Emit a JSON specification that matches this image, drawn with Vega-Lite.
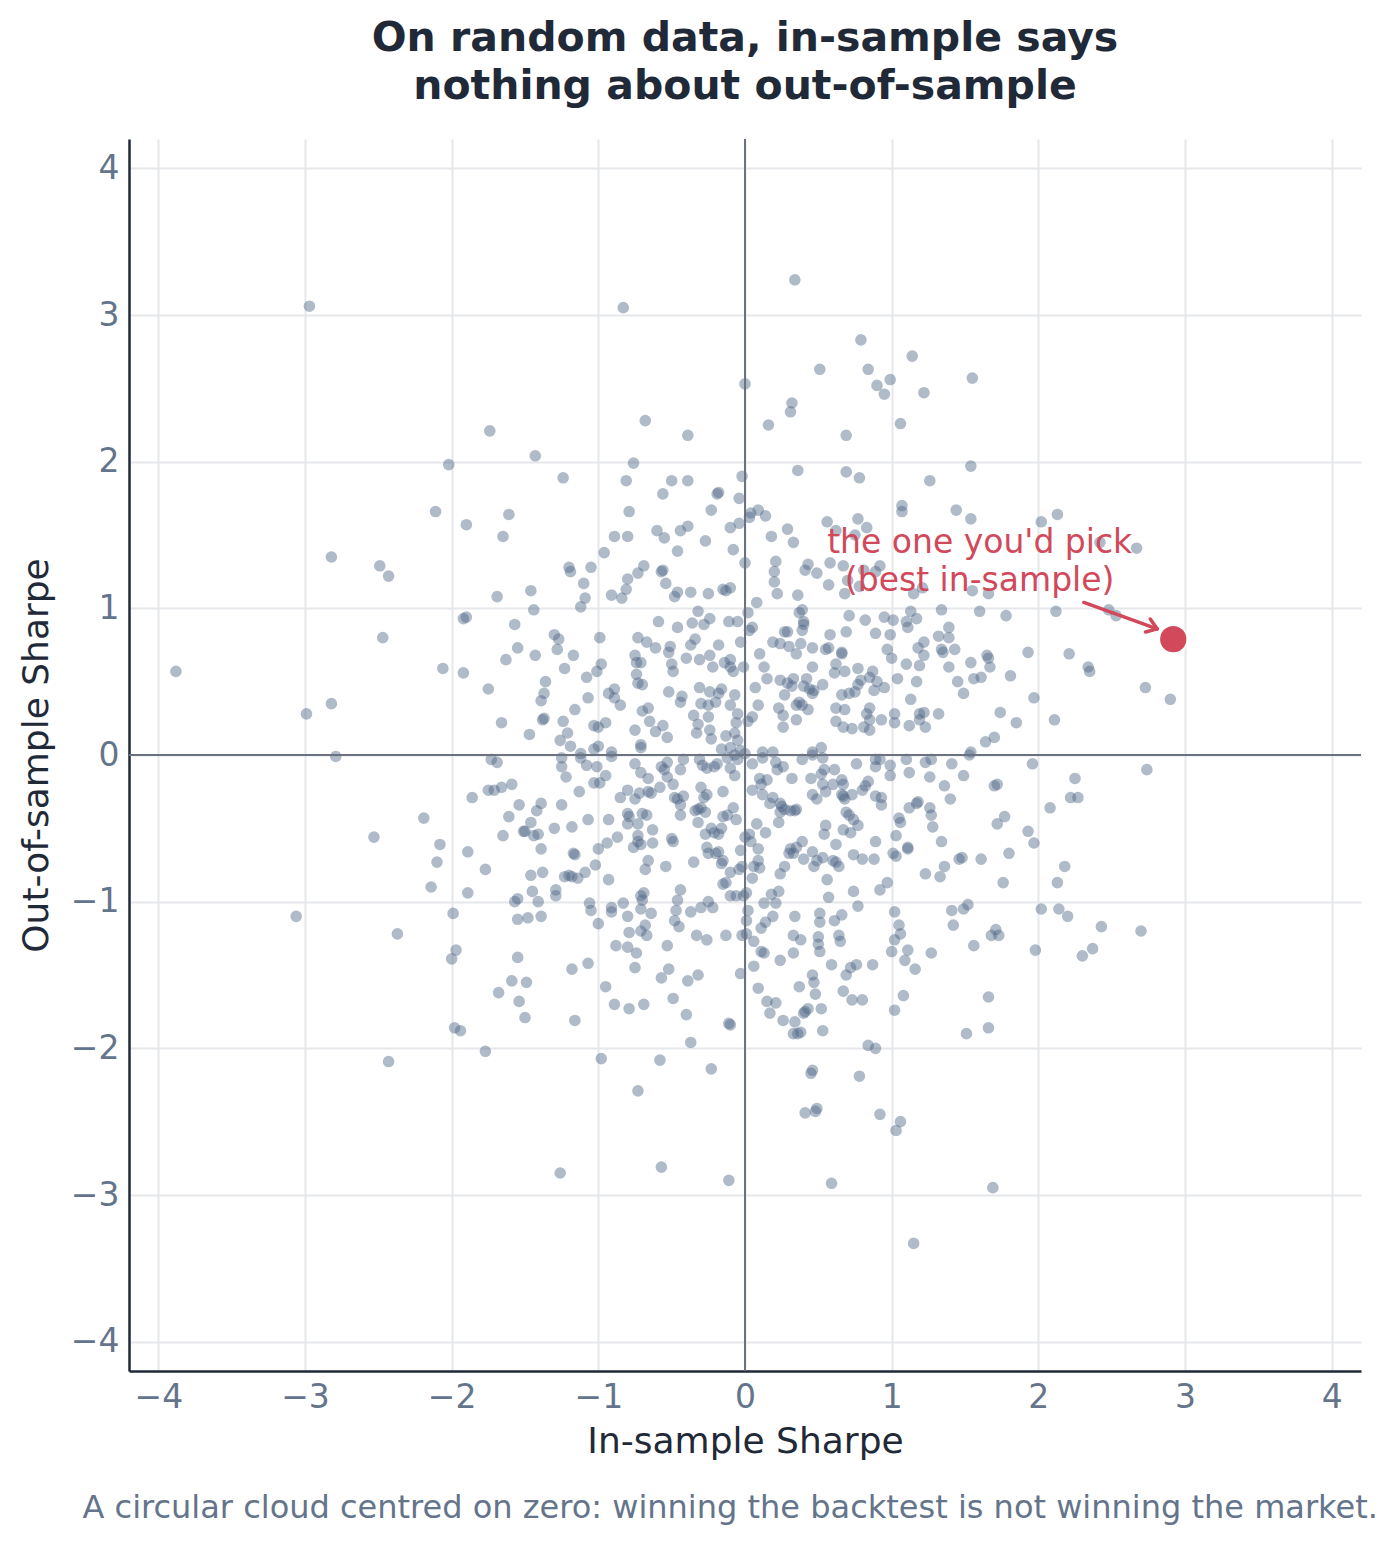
{
  "$schema": "https://vega.github.io/schema/vega-lite/v6.json",
  "background": "white",
  "padding": {"left": 18, "top": 18, "right": 30, "bottom": 10},
  "config": {
    "view": {"stroke": null},
    "font": "DejaVu Sans",
    "axis": {
      "grid": true, "gridColor": "#e5e7eb", "gridWidth": 2,
      "domainColor": "#1f2937", "domainWidth": 2.5, "ticks": false,
      "labelFont": "DejaVu Sans", "labelFontSize": 33, "labelColor": "#64748b", "labelPadding": 10,
      "labelFlush": false, "labelOverlap": false,
      "titleFont": "DejaVu Sans", "titleFontSize": 36, "titleColor": "#1f2937", "titleFontWeight": "normal"
    }
  },
  "title": {
    "text": "A circular cloud centred on zero: winning the backtest is not winning the market.",
    "orient": "bottom", "anchor": "middle", "fontSize": 32, "fontWeight": "normal",
    "color": "#64748b", "offset": 34, "dx": 40
  },
  "datasets": {
    "cloud": [
      {"x":-2.97,"y":3.06},{"x":-1.74,"y":2.21},{"x":-2.02,"y":1.98},{"x":-2.11,"y":1.66},{"x":-1.90,"y":1.57},
      {"x":-2.82,"y":1.35},{"x":-2.49,"y":1.29},{"x":-2.43,"y":1.22},{"x":-1.69,"y":1.08},{"x":-1.92,"y":0.93},
      {"x":-1.90,"y":0.94},{"x":-2.47,"y":0.80},{"x":-3.88,"y":0.57},{"x":-2.06,"y":0.59},{"x":-1.92,"y":0.56},
      {"x":-1.75,"y":0.45},{"x":-1.66,"y":0.22},{"x":-2.82,"y":0.35},{"x":-2.99,"y":0.28},{"x":-2.79,"y":-0.01},
      {"x":-1.73,"y":-0.03},{"x":-1.69,"y":-0.05},{"x":-1.86,"y":-0.29},{"x":-1.75,"y":-0.24},{"x":-1.71,"y":-0.24},
      {"x":-1.66,"y":-0.22},{"x":-2.19,"y":-0.43},{"x":-2.53,"y":-0.56},{"x":-2.08,"y":-0.61},{"x":-1.89,"y":-0.66},
      {"x":-2.10,"y":-0.73},{"x":-1.77,"y":-0.78},{"x":-2.14,"y":-0.90},{"x":-1.89,"y":-0.94},{"x":-3.06,"y":-1.10},
      {"x":-1.99,"y":-1.08},{"x":-2.37,"y":-1.22},{"x":-1.97,"y":-1.33},{"x":-2.00,"y":-1.39},{"x":-1.68,"y":-1.62},
      {"x":-1.98,"y":-1.86},{"x":-1.94,"y":-1.88},{"x":-1.77,"y":-2.02},{"x":-2.43,"y":-2.09},
      {"x":-0.83,"y":3.05},{"x":0.00,"y":2.53},{"x":-0.68,"y":2.28},{"x":-0.39,"y":2.18},{"x":-1.43,"y":2.04},
      {"x":-0.76,"y":1.99},{"x":-1.24,"y":1.89},{"x":-0.81,"y":1.87},{"x":-0.50,"y":1.87},{"x":-0.39,"y":1.87},
      {"x":-0.02,"y":1.90},{"x":-0.56,"y":1.78},{"x":-0.19,"y":1.78},{"x":-0.18,"y":1.79},{"x":-0.23,"y":1.67},
      {"x":-0.04,"y":1.75},{"x":-1.61,"y":1.64},{"x":-0.79,"y":1.66},{"x":-1.65,"y":1.49},{"x":-0.60,"y":1.53},
      {"x":-0.55,"y":1.48},{"x":-0.44,"y":1.53},{"x":-0.39,"y":1.56},{"x":-0.89,"y":1.49},{"x":-0.80,"y":1.49},
      {"x":-0.10,"y":1.55},{"x":-0.04,"y":1.58},{"x":-0.27,"y":1.46},{"x":-0.08,"y":1.40},{"x":-0.46,"y":1.39},
      {"x":-0.96,"y":1.38},{"x":0.00,"y":1.31},{"x":-1.20,"y":1.28},{"x":-1.19,"y":1.25},{"x":-1.05,"y":1.28},
      {"x":-0.69,"y":1.29},{"x":-0.73,"y":1.24},{"x":-0.57,"y":1.25},{"x":-0.56,"y":1.26},{"x":-0.54,"y":1.17},
      {"x":-0.80,"y":1.20},{"x":-0.81,"y":1.13},{"x":-1.10,"y":1.17},{"x":-1.09,"y":1.07},{"x":-1.12,"y":1.01},
      {"x":-0.91,"y":1.09},{"x":-0.84,"y":1.07},{"x":-1.46,"y":1.12},{"x":-1.44,"y":0.99},{"x":-0.46,"y":1.11},
      {"x":-0.48,"y":1.08},{"x":-0.37,"y":1.11},{"x":-0.25,"y":1.10},{"x":-0.15,"y":1.13},{"x":-0.10,"y":1.14},
      {"x":-0.13,"y":1.12},{"x":-1.57,"y":0.89},{"x":-0.59,"y":0.91},{"x":-0.46,"y":0.87},{"x":-0.32,"y":0.98},
      {"x":-0.36,"y":0.90},{"x":-0.28,"y":0.89},{"x":-0.24,"y":0.93},{"x":-0.11,"y":0.91},{"x":-0.05,"y":0.91},
      {"x":0.02,"y":0.97},{"x":-0.99,"y":0.80},{"x":-1.30,"y":0.82},{"x":-1.27,"y":0.79},{"x":-1.55,"y":0.73},
      {"x":-1.63,"y":0.65},{"x":-1.43,"y":0.68},{"x":-1.28,"y":0.72},{"x":-1.17,"y":0.68},{"x":-1.23,"y":0.59},
      {"x":-0.73,"y":0.80},{"x":-0.67,"y":0.77},{"x":-0.61,"y":0.73},{"x":-0.51,"y":0.74},{"x":-0.52,"y":0.70},
      {"x":-0.37,"y":0.75},{"x":-0.34,"y":0.79},{"x":-0.18,"y":0.75},{"x":-0.03,"y":0.77},{"x":-0.40,"y":0.66},
      {"x":-0.31,"y":0.65},{"x":-0.24,"y":0.68},{"x":-0.22,"y":0.60},{"x":-0.14,"y":0.63},{"x":-0.10,"y":0.65},
      {"x":-0.08,"y":0.57},{"x":-0.10,"y":0.60},{"x":-0.01,"y":0.60},{"x":-0.75,"y":0.68},{"x":-0.74,"y":0.63},
      {"x":-0.71,"y":0.63},{"x":-0.74,"y":0.55},{"x":-0.73,"y":0.49},{"x":-0.70,"y":0.48},{"x":-0.50,"y":0.62},
      {"x":-0.49,"y":0.57},{"x":-0.98,"y":0.62},{"x":-1.01,"y":0.57},{"x":-1.08,"y":0.53},{"x":-1.36,"y":0.50},
      {"x":-1.37,"y":0.42},{"x":-1.39,"y":0.37},{"x":-1.38,"y":0.24},{"x":-1.37,"y":0.25},{"x":-1.07,"y":0.39},
      {"x":-1.16,"y":0.31},{"x":-0.93,"y":0.42},{"x":-0.89,"y":0.45},{"x":-0.89,"y":0.39},{"x":-0.85,"y":0.34},
      {"x":-0.52,"y":0.43},{"x":-0.43,"y":0.40},{"x":-0.44,"y":0.36},{"x":-0.31,"y":0.46},{"x":-0.24,"y":0.43},
      {"x":-0.18,"y":0.42},{"x":-0.16,"y":0.45},{"x":-0.30,"y":0.35},{"x":-0.25,"y":0.34},{"x":-0.20,"y":0.36},
      {"x":-0.10,"y":0.34},{"x":-0.07,"y":0.41},{"x":-0.05,"y":0.28},{"x":-0.06,"y":0.22},{"x":-0.66,"y":0.32},
      {"x":-0.70,"y":0.30},{"x":-0.65,"y":0.23},{"x":-0.61,"y":0.16},{"x":-0.56,"y":0.20},{"x":-0.53,"y":0.12},
      {"x":-0.35,"y":0.27},{"x":-0.32,"y":0.21},{"x":-0.33,"y":0.15},{"x":-0.25,"y":0.26},{"x":-0.24,"y":0.17},
      {"x":-0.23,"y":0.11},{"x":-0.16,"y":0.04},{"x":-0.13,"y":0.13},{"x":-0.07,"y":0.15},{"x":-0.05,"y":0.10},
      {"x":-0.10,"y":0.05},{"x":-0.03,"y":0.03},{"x":-0.07,"y":0.00},{"x":0.00,"y":0.01},{"x":-1.47,"y":0.14},
      {"x":-1.24,"y":0.23},{"x":-1.21,"y":0.15},{"x":-1.26,"y":0.10},{"x":-1.19,"y":0.06},{"x":-1.03,"y":0.20},
      {"x":-1.00,"y":0.19},{"x":-0.95,"y":0.22},{"x":-1.00,"y":0.06},{"x":-1.03,"y":0.04},{"x":-0.91,"y":0.02},
      {"x":-1.12,"y":0.01},{"x":-0.75,"y":0.17},{"x":-0.71,"y":0.07},{"x":-0.71,"y":0.05},
      {"x":0.34,"y":3.24},{"x":0.79,"y":2.83},{"x":1.14,"y":2.72},{"x":0.51,"y":2.63},{"x":0.84,"y":2.63},
      {"x":0.90,"y":2.52},{"x":0.95,"y":2.46},{"x":0.99,"y":2.56},{"x":1.22,"y":2.47},{"x":1.55,"y":2.57},
      {"x":0.32,"y":2.40},{"x":0.31,"y":2.34},{"x":0.16,"y":2.25},{"x":0.69,"y":2.18},{"x":1.06,"y":2.26},
      {"x":0.36,"y":1.94},{"x":0.69,"y":1.93},{"x":0.78,"y":1.89},{"x":1.26,"y":1.87},{"x":1.54,"y":1.97},
      {"x":0.09,"y":1.67},{"x":0.04,"y":1.65},{"x":0.03,"y":1.62},{"x":0.14,"y":1.63},{"x":1.07,"y":1.70},
      {"x":1.07,"y":1.66},{"x":1.44,"y":1.67},{"x":1.54,"y":1.61},{"x":0.56,"y":1.59},{"x":0.77,"y":1.61},
      {"x":0.83,"y":1.55},{"x":0.29,"y":1.54},{"x":0.18,"y":1.49},{"x":0.33,"y":1.45},{"x":0.62,"y":1.53},
      {"x":0.75,"y":1.50},{"x":0.21,"y":1.32},{"x":0.58,"y":1.31},{"x":0.67,"y":1.29},{"x":0.92,"y":1.29},
      {"x":0.43,"y":1.30},{"x":0.41,"y":1.26},{"x":0.49,"y":1.24},{"x":0.20,"y":1.25},{"x":0.20,"y":1.18},
      {"x":0.22,"y":1.10},{"x":0.57,"y":1.16},{"x":0.70,"y":1.19},{"x":0.78,"y":1.15},{"x":0.68,"y":1.10},
      {"x":0.81,"y":1.26},{"x":0.89,"y":1.25},{"x":0.36,"y":1.09},{"x":1.15,"y":1.10},{"x":1.21,"y":1.14},
      {"x":1.55,"y":1.12},{"x":1.66,"y":1.10},{"x":0.08,"y":1.04},{"x":0.39,"y":0.99},{"x":0.37,"y":0.97},
      {"x":0.40,"y":0.91},{"x":0.40,"y":0.89},{"x":0.39,"y":0.85},{"x":0.05,"y":0.87},{"x":0.03,"y":0.85},
      {"x":0.71,"y":0.95},{"x":0.82,"y":0.92},{"x":0.95,"y":0.94},{"x":1.01,"y":0.92},{"x":1.13,"y":0.98},
      {"x":1.10,"y":0.91},{"x":1.11,"y":0.87},{"x":1.17,"y":0.93},{"x":1.34,"y":0.99},{"x":1.60,"y":0.98},
      {"x":0.69,"y":0.84},{"x":0.58,"y":0.82},{"x":0.89,"y":0.83},{"x":0.99,"y":0.82},{"x":0.27,"y":0.84},
      {"x":0.29,"y":0.84},{"x":0.19,"y":0.77},{"x":0.24,"y":0.76},{"x":0.30,"y":0.74},{"x":0.35,"y":0.69},
      {"x":0.38,"y":0.76},{"x":0.10,"y":0.69},{"x":0.46,"y":0.73},{"x":0.55,"y":0.72},{"x":0.57,"y":0.73},
      {"x":0.66,"y":0.69},{"x":0.66,"y":0.70},{"x":0.62,"y":0.62},{"x":0.46,"y":0.60},{"x":0.13,"y":0.60},
      {"x":0.15,"y":0.52},{"x":0.24,"y":0.51},{"x":0.29,"y":0.49},{"x":0.33,"y":0.52},{"x":0.32,"y":0.47},
      {"x":0.42,"y":0.52},{"x":0.40,"y":0.47},{"x":0.44,"y":0.45},{"x":0.47,"y":0.44},{"x":0.46,"y":0.42},
      {"x":0.53,"y":0.48},{"x":0.61,"y":0.56},{"x":0.68,"y":0.57},{"x":0.77,"y":0.59},{"x":0.87,"y":0.57},
      {"x":0.85,"y":0.53},{"x":0.79,"y":0.51},{"x":0.77,"y":0.48},{"x":0.90,"y":0.50},{"x":0.88,"y":0.44},
      {"x":0.95,"y":0.46},{"x":0.66,"y":0.41},{"x":0.71,"y":0.42},{"x":0.75,"y":0.43},{"x":0.97,"y":0.72},
      {"x":1.00,"y":0.66},{"x":1.04,"y":0.52},{"x":1.10,"y":0.62},{"x":1.17,"y":0.50},{"x":1.19,"y":0.61},
      {"x":1.22,"y":0.68},{"x":1.18,"y":0.73},{"x":1.22,"y":0.77},{"x":1.13,"y":0.38},{"x":1.32,"y":0.81},
      {"x":1.39,"y":0.87},{"x":1.39,"y":0.80},{"x":1.34,"y":0.72},{"x":1.35,"y":0.70},{"x":1.43,"y":0.72},
      {"x":1.39,"y":0.60},{"x":1.45,"y":0.50},{"x":1.49,"y":0.42},{"x":1.54,"y":0.63},{"x":1.56,"y":0.52},
      {"x":1.61,"y":0.53},{"x":1.65,"y":0.68},{"x":1.66,"y":0.66},{"x":1.67,"y":0.60},{"x":0.09,"y":0.34},
      {"x":0.07,"y":0.46},{"x":0.35,"y":0.34},{"x":0.37,"y":0.36},{"x":0.39,"y":0.34},{"x":0.43,"y":0.31},
      {"x":0.35,"y":0.24},{"x":0.27,"y":0.41},{"x":0.23,"y":0.32},{"x":0.26,"y":0.27},{"x":0.26,"y":0.19},
      {"x":0.05,"y":0.26},{"x":0.02,"y":0.23},{"x":0.62,"y":0.32},{"x":0.68,"y":0.31},{"x":0.62,"y":0.23},
      {"x":0.67,"y":0.19},{"x":0.73,"y":0.18},{"x":0.85,"y":0.32},{"x":0.83,"y":0.28},{"x":0.85,"y":0.24},
      {"x":0.81,"y":0.19},{"x":0.85,"y":0.17},{"x":0.93,"y":0.24},{"x":1.02,"y":0.28},{"x":1.02,"y":0.22},
      {"x":1.19,"y":0.28},{"x":1.22,"y":0.29},{"x":1.19,"y":0.24},{"x":1.12,"y":0.20},{"x":1.23,"y":0.19},
      {"x":1.32,"y":0.28},{"x":1.54,"y":0.02},{"x":1.64,"y":0.09},{"x":1.70,"y":0.12},{"x":0.52,"y":0.05},
      {"x":0.46,"y":0.02},{"x":0.12,"y":0.02},{"x":0.19,"y":0.02},
      {"x":2.02,"y":1.59},{"x":2.13,"y":1.64},{"x":2.42,"y":1.45},{"x":2.67,"y":1.41},{"x":1.78,"y":0.95},
      {"x":2.12,"y":0.98},{"x":2.48,"y":0.99},{"x":2.53,"y":0.95},{"x":1.93,"y":0.70},{"x":2.21,"y":0.69},
      {"x":2.34,"y":0.60},{"x":2.35,"y":0.57},{"x":1.81,"y":0.54},{"x":1.97,"y":0.39},{"x":1.74,"y":0.29},
      {"x":1.85,"y":0.22},{"x":2.11,"y":0.24},{"x":2.73,"y":0.46},{"x":2.90,"y":0.38},
      {"x":-1.25,"y":-0.02},{"x":-1.25,"y":-0.08},{"x":-1.22,"y":-0.15},{"x":-1.12,"y":-0.02},{"x":-1.08,"y":-0.07},
      {"x":-1.01,"y":-0.08},{"x":-1.03,"y":-0.19},{"x":-0.99,"y":-0.19},{"x":-0.95,"y":-0.14},{"x":-0.91,"y":-0.01},
      {"x":-1.59,"y":-0.20},{"x":-1.13,"y":-0.25},{"x":-0.75,"y":-0.06},{"x":-0.71,"y":-0.12},{"x":-0.66,"y":-0.16},
      {"x":-0.57,"y":-0.08},{"x":-0.55,"y":-0.10},{"x":-0.53,"y":-0.05},{"x":-0.44,"y":-0.10},{"x":-0.53,"y":-0.15},
      {"x":-0.49,"y":-0.20},{"x":-0.42,"y":-0.03},{"x":-0.58,"y":-0.22},{"x":-0.31,"y":-0.03},{"x":-0.29,"y":-0.07},
      {"x":-0.26,"y":-0.09},{"x":-0.21,"y":-0.08},{"x":-0.19,"y":-0.06},{"x":-0.10,"y":-0.09},{"x":-0.07,"y":-0.14},
      {"x":-0.05,"y":-0.03},{"x":-0.12,"y":-0.02},{"x":-0.30,"y":-0.22},{"x":-0.28,"y":-0.29},{"x":-0.26,"y":-0.27},
      {"x":-0.15,"y":-0.25},{"x":-1.54,"y":-0.34},{"x":-1.61,"y":-0.42},{"x":-1.65,"y":-0.55},{"x":-1.39,"y":-0.33},
      {"x":-1.42,"y":-0.38},{"x":-1.46,"y":-0.46},{"x":-1.51,"y":-0.52},{"x":-1.50,"y":-0.52},{"x":-1.44,"y":-0.55},
      {"x":-1.41,"y":-0.54},{"x":-1.30,"y":-0.50},{"x":-1.25,"y":-0.34},{"x":-1.18,"y":-0.49},{"x":-1.07,"y":-0.44},
      {"x":-1.39,"y":-0.64},{"x":-0.93,"y":-0.44},{"x":-0.85,"y":-0.29},{"x":-0.80,"y":-0.24},{"x":-0.75,"y":-0.30},
      {"x":-0.72,"y":-0.26},{"x":-0.66,"y":-0.25},{"x":-0.64,"y":-0.26},{"x":-0.80,"y":-0.40},{"x":-0.79,"y":-0.42},
      {"x":-0.80,"y":-0.47},{"x":-0.73,"y":-0.47},{"x":-0.70,"y":-0.40},{"x":-0.67,"y":-0.41},{"x":-0.63,"y":-0.51},
      {"x":-0.73,"y":-0.55},{"x":-0.73,"y":-0.59},{"x":-0.71,"y":-0.61},{"x":-0.76,"y":-0.63},{"x":-0.63,"y":-0.60},
      {"x":-0.68,"y":-0.78},{"x":-0.66,"y":-0.72},{"x":-0.54,"y":-0.76},{"x":-0.50,"y":-0.57},{"x":-0.49,"y":-0.59},
      {"x":-0.48,"y":-0.29},{"x":-0.46,"y":-0.30},{"x":-0.42,"y":-0.28},{"x":-0.44,"y":-0.34},{"x":-0.44,"y":-0.41},
      {"x":-0.34,"y":-0.38},{"x":-0.32,"y":-0.37},{"x":-0.30,"y":-0.36},{"x":-0.27,"y":-0.39},{"x":-0.32,"y":-0.46},
      {"x":-0.35,"y":-0.73},{"x":-0.27,"y":-0.54},{"x":-0.23,"y":-0.50},{"x":-0.21,"y":-0.53},{"x":-0.18,"y":-0.54},
      {"x":-0.16,"y":-0.50},{"x":-0.15,"y":-0.42},{"x":-0.12,"y":-0.41},{"x":-0.08,"y":-0.36},{"x":-0.06,"y":-0.44},
      {"x":-0.20,"y":-0.67},{"x":-0.18,"y":-0.66},{"x":-0.15,"y":-0.72},{"x":-0.16,"y":-0.74},{"x":-0.26,"y":-0.63},
      {"x":-0.25,"y":-0.67},{"x":-0.10,"y":-0.80},{"x":-0.04,"y":-0.78},{"x":-0.02,"y":-0.76},{"x":-0.03,"y":-0.65},
      {"x":0.00,"y":-0.56},{"x":-0.15,"y":-0.88},{"x":-0.13,"y":-0.87},{"x":-0.10,"y":-0.96},{"x":-0.06,"y":-0.96},
      {"x":-0.01,"y":-0.96},{"x":0.02,"y":-1.06},{"x":0.01,"y":-1.13},{"x":0.01,"y":-1.22},{"x":-0.02,"y":-1.23},
      {"x":-0.03,"y":-1.49},{"x":-1.46,"y":-0.82},{"x":-1.38,"y":-0.80},{"x":-1.23,"y":-0.83},{"x":-1.20,"y":-0.82},
      {"x":-1.18,"y":-0.83},{"x":-1.14,"y":-0.84},{"x":-1.09,"y":-0.80},{"x":-1.02,"y":-0.75},{"x":-1.00,"y":-0.64},
      {"x":-0.94,"y":-0.60},{"x":-0.87,"y":-0.56},{"x":-0.93,"y":-0.85},{"x":-1.17,"y":-0.67},{"x":-1.16,"y":-0.68},
      {"x":-1.45,"y":-0.93},{"x":-1.41,"y":-1.00},{"x":-1.57,"y":-1.00},{"x":-1.55,"y":-0.98},{"x":-1.55,"y":-1.12},
      {"x":-1.48,"y":-1.11},{"x":-1.39,"y":-1.10},{"x":-1.29,"y":-0.92},{"x":-1.29,"y":-0.96},{"x":-1.06,"y":-1.01},
      {"x":-1.05,"y":-1.06},{"x":-1.00,"y":-1.15},{"x":-0.91,"y":-1.04},{"x":-0.91,"y":-1.07},{"x":-0.83,"y":-1.01},
      {"x":-0.80,"y":-1.10},{"x":-0.79,"y":-1.21},{"x":-0.71,"y":-1.05},{"x":-0.71,"y":-0.96},{"x":-0.69,"y":-0.94},
      {"x":-0.70,"y":-0.99},{"x":-0.64,"y":-1.08},{"x":-0.68,"y":-1.16},{"x":-0.67,"y":-1.23},{"x":-0.71,"y":-1.20},
      {"x":-0.44,"y":-0.92},{"x":-0.46,"y":-0.99},{"x":-0.47,"y":-1.06},{"x":-0.48,"y":-1.13},{"x":-0.45,"y":-1.17},
      {"x":-0.37,"y":-1.07},{"x":-0.33,"y":-1.23},{"x":-0.30,"y":-1.04},{"x":-0.26,"y":-1.26},{"x":-0.25,"y":-1.00},
      {"x":-0.22,"y":-1.04},{"x":-0.13,"y":-1.23},{"x":-0.53,"y":-1.30},{"x":-0.88,"y":-1.30},{"x":-0.80,"y":-1.31},
      {"x":-0.74,"y":-1.35},{"x":-0.75,"y":-1.45},{"x":-1.55,"y":-1.38},{"x":-1.59,"y":-1.54},{"x":-1.49,"y":-1.55},
      {"x":-1.54,"y":-1.68},{"x":-1.50,"y":-1.79},{"x":-1.18,"y":-1.46},{"x":-1.07,"y":-1.42},{"x":-1.16,"y":-1.81},
      {"x":-0.95,"y":-1.58},{"x":-0.89,"y":-1.70},{"x":-0.79,"y":-1.73},{"x":-0.69,"y":-1.70},{"x":-0.57,"y":-1.52},
      {"x":-0.52,"y":-1.46},{"x":-0.49,"y":-1.66},{"x":-0.39,"y":-1.54},{"x":-0.32,"y":-1.50},{"x":-0.40,"y":-1.77},
      {"x":-0.11,"y":-1.83},{"x":-0.10,"y":-1.84},{"x":-0.37,"y":-1.96},{"x":-0.98,"y":-2.07},{"x":-0.58,"y":-2.08},
      {"x":-0.23,"y":-2.14},{"x":-0.73,"y":-2.29},{"x":-1.26,"y":-2.85},{"x":-0.57,"y":-2.81},{"x":-0.11,"y":-2.90},
      {"x":0.05,"y":-0.06},{"x":0.12,"y":-0.02},{"x":0.21,"y":-0.05},{"x":0.22,"y":-0.10},{"x":0.26,"y":-0.08},
      {"x":0.39,"y":-0.03},{"x":0.46,"y":0.00},{"x":0.53,"y":-0.02},{"x":0.54,"y":-0.10},{"x":0.61,"y":-0.10},
      {"x":0.52,"y":-0.13},{"x":0.45,"y":-0.16},{"x":0.32,"y":-0.16},{"x":0.10,"y":-0.16},{"x":0.15,"y":-0.17},
      {"x":0.11,"y":-0.20},{"x":0.05,"y":-0.24},{"x":0.12,"y":-0.27},{"x":0.76,"y":-0.06},{"x":0.89,"y":-0.03},
      {"x":0.92,"y":-0.03},{"x":0.89,"y":-0.08},{"x":0.99,"y":-0.07},{"x":0.99,"y":-0.14},{"x":1.10,"y":-0.03},
      {"x":1.12,"y":-0.12},{"x":1.23,"y":-0.05},{"x":1.26,"y":-0.15},{"x":1.27,"y":-0.03},{"x":1.41,"y":-0.06},
      {"x":1.49,"y":-0.14},{"x":1.36,"y":-0.21},{"x":1.40,"y":-0.30},{"x":1.53,"y":0.00},{"x":0.66,"y":-0.17},
      {"x":0.67,"y":-0.20},{"x":0.60,"y":-0.20},{"x":0.53,"y":-0.20},{"x":0.55,"y":-0.25},{"x":0.46,"y":-0.27},
      {"x":0.49,"y":-0.30},{"x":0.66,"y":-0.27},{"x":0.68,"y":-0.30},{"x":0.67,"y":-0.28},{"x":0.73,"y":-0.27},
      {"x":0.80,"y":-0.24},{"x":0.82,"y":-0.21},{"x":0.84,"y":-0.18},{"x":0.89,"y":-0.28},{"x":0.93,"y":-0.29},
      {"x":0.93,"y":-0.34},{"x":0.69,"y":-0.39},{"x":0.71,"y":-0.41},{"x":0.74,"y":-0.44},{"x":0.77,"y":-0.48},
      {"x":0.72,"y":-0.53},{"x":0.67,"y":-0.51},{"x":0.55,"y":-0.48},{"x":0.54,"y":-0.54},{"x":0.62,"y":-0.61},
      {"x":0.89,"y":-0.59},{"x":0.17,"y":-0.33},{"x":0.19,"y":-0.29},{"x":0.24,"y":-0.33},{"x":0.25,"y":-0.35},
      {"x":0.27,"y":-0.37},{"x":0.31,"y":-0.38},{"x":0.34,"y":-0.38},{"x":0.35,"y":-0.37},{"x":0.24,"y":-0.39},
      {"x":0.23,"y":-0.46},{"x":0.08,"y":-0.47},{"x":0.14,"y":-0.53},{"x":0.03,"y":-0.54},{"x":0.04,"y":-0.59},
      {"x":0.09,"y":-0.64},{"x":1.05,"y":-0.43},{"x":1.06,"y":-0.46},{"x":1.03,"y":-0.55},{"x":1.12,"y":-0.36},
      {"x":1.17,"y":-0.33},{"x":1.18,"y":-0.32},{"x":1.26,"y":-0.36},{"x":1.27,"y":-0.41},{"x":1.28,"y":-0.49},
      {"x":1.34,"y":-0.59},{"x":1.11,"y":-0.63},{"x":1.11,"y":-0.64},{"x":1.01,"y":-0.67},{"x":1.03,"y":-0.69},
      {"x":1.23,"y":-0.81},{"x":1.33,"y":-0.83},{"x":1.36,"y":-0.76},{"x":1.46,"y":-0.71},{"x":1.48,"y":-0.70},
      {"x":1.61,"y":-0.71},{"x":0.09,"y":-0.72},{"x":0.10,"y":-0.77},{"x":0.06,"y":-0.76},{"x":0.05,"y":-0.84},
      {"x":0.01,"y":-0.94},{"x":0.24,"y":-0.81},{"x":0.27,"y":-0.76},{"x":0.30,"y":-0.67},{"x":0.33,"y":-0.67},
      {"x":0.35,"y":-0.63},{"x":0.39,"y":-0.59},{"x":0.31,"y":-0.64},{"x":0.40,"y":-0.71},{"x":0.46,"y":-0.66},
      {"x":0.47,"y":-0.76},{"x":0.49,"y":-0.72},{"x":0.53,"y":-0.70},{"x":0.60,"y":-0.72},{"x":0.62,"y":-0.73},
      {"x":0.64,"y":-0.76},{"x":0.56,"y":-0.85},{"x":0.57,"y":-0.97},{"x":0.74,"y":-0.68},{"x":0.80,"y":-0.71},
      {"x":0.88,"y":-0.71},{"x":0.74,"y":-0.93},{"x":0.77,"y":-1.03},{"x":0.92,"y":-0.92},{"x":0.97,"y":-0.87},
      {"x":0.23,"y":-0.93},{"x":0.18,"y":-0.95},{"x":0.13,"y":-1.01},{"x":0.21,"y":-1.01},{"x":0.06,"y":-1.27},
      {"x":0.11,"y":-1.18},{"x":0.14,"y":-1.14},{"x":0.19,"y":-1.10},{"x":0.34,"y":-1.10},{"x":0.51,"y":-1.08},
      {"x":0.51,"y":-1.14},{"x":0.61,"y":-1.13},{"x":0.66,"y":-1.09},{"x":0.33,"y":-1.23},{"x":0.38,"y":-1.26},
      {"x":0.50,"y":-1.24},{"x":0.50,"y":-1.29},{"x":0.51,"y":-1.34},{"x":0.64,"y":-1.23},{"x":0.65,"y":-1.27},
      {"x":0.11,"y":-1.34},{"x":0.13,"y":-1.35},{"x":0.24,"y":-1.40},{"x":0.33,"y":-1.35},{"x":0.06,"y":-1.44},
      {"x":0.59,"y":-1.43},{"x":0.69,"y":-1.50},{"x":0.72,"y":-1.45},{"x":0.76,"y":-1.43},{"x":0.87,"y":-1.43},
      {"x":0.09,"y":-1.59},{"x":0.37,"y":-1.58},{"x":0.46,"y":-1.50},{"x":0.47,"y":-1.55},{"x":0.48,"y":-1.63},
      {"x":0.67,"y":-1.61},{"x":0.73,"y":-1.67},{"x":0.80,"y":-1.67},{"x":0.15,"y":-1.68},{"x":0.21,"y":-1.69},
      {"x":0.17,"y":-1.76},{"x":0.26,"y":-1.81},{"x":0.34,"y":-1.82},{"x":0.33,"y":-1.90},{"x":0.36,"y":-1.90},
      {"x":0.38,"y":-1.89},{"x":0.41,"y":-1.75},{"x":0.43,"y":-1.73},{"x":0.40,"y":-1.76},{"x":0.52,"y":-1.73},
      {"x":0.53,"y":-1.88},{"x":1.02,"y":-1.07},{"x":1.05,"y":-1.16},{"x":1.06,"y":-1.22},{"x":1.02,"y":-1.26},
      {"x":1.00,"y":-1.34},{"x":1.11,"y":-1.33},{"x":1.09,"y":-1.40},{"x":1.16,"y":-1.46},{"x":1.27,"y":-1.35},
      {"x":1.41,"y":-1.06},{"x":1.49,"y":-1.05},{"x":1.52,"y":-1.02},{"x":1.42,"y":-1.16},{"x":1.56,"y":-1.30},
      {"x":1.08,"y":-1.64},{"x":1.02,"y":-1.74},{"x":1.66,"y":-1.65},{"x":1.66,"y":-1.86},{"x":1.51,"y":-1.90},
      {"x":0.84,"y":-1.98},{"x":0.89,"y":-2.00},{"x":0.45,"y":-2.17},{"x":0.46,"y":-2.15},{"x":0.78,"y":-2.19},
      {"x":0.41,"y":-2.44},{"x":0.49,"y":-2.41},{"x":0.48,"y":-2.43},{"x":0.92,"y":-2.45},{"x":1.03,"y":-2.56},
      {"x":1.06,"y":-2.50},{"x":0.59,"y":-2.92},{"x":1.15,"y":-3.33},{"x":1.69,"y":-2.95},
      {"x":1.96,"y":-0.06},{"x":2.74,"y":-0.10},{"x":2.25,"y":-0.16},{"x":2.22,"y":-0.29},{"x":2.27,"y":-0.29},
      {"x":2.08,"y":-0.36},{"x":1.70,"y":-0.21},{"x":1.72,"y":-0.20},{"x":1.77,"y":-0.42},{"x":1.72,"y":-0.47},
      {"x":1.93,"y":-0.52},{"x":1.97,"y":-0.60},{"x":1.80,"y":-0.67},{"x":2.18,"y":-0.76},{"x":2.13,"y":-0.87},
      {"x":1.76,"y":-0.87},{"x":2.02,"y":-1.05},{"x":2.14,"y":-1.05},{"x":2.20,"y":-1.10},{"x":2.43,"y":-1.17},
      {"x":2.70,"y":-1.20},{"x":1.71,"y":-1.19},{"x":1.73,"y":-1.23},{"x":1.68,"y":-1.23},{"x":1.98,"y":-1.33},
      {"x":2.37,"y":-1.32},{"x":2.30,"y":-1.37}
    ],
    "pick": [{"x": 2.92, "y": 0.79}],
    "note": [{"x": 1.6, "y": 1.445, "label": ["the one you'd pick", "(best in-sample)"]}],
    "arrow": [
      {"x": 2.31, "y": 1.04, "x2": 2.81, "y2": 0.86},
      {"x": 2.763, "y": 0.927, "x2": 2.81, "y2": 0.86},
      {"x": 2.731, "y": 0.839, "x2": 2.81, "y2": 0.86}
    ],
    "zero": [{"v": 0}]
  },
  "vconcat": [
    {
      "width": 1232,
      "height": 1232,
      "title": {
        "text": ["On random data, in-sample says", "nothing about out-of-sample"],
        "frame": "group", "anchor": "middle", "fontSize": 41, "fontWeight": "bold",
        "color": "#1f2937", "lineHeight": 48, "offset": 30
      },
      "layer": [
        {
          "data": {"name": "cloud"},
          "mark": {"type": "circle", "size": 135, "color": "#4b6584", "opacity": 0.44},
          "encoding": {
            "x": {
              "field": "x", "type": "quantitative",
              "scale": {"domain": [-4.2, 4.2], "nice": false, "zero": false},
              "axis": {"values": [-4, -3, -2, -1, 0, 1, 2, 3, 4], "format": "d", "title": "In-sample Sharpe", "titlePadding": 10}
            },
            "y": {
              "field": "y", "type": "quantitative",
              "scale": {"domain": [-4.2, 4.2], "nice": false, "zero": false},
              "axis": {"values": [-4, -3, -2, -1, 0, 1, 2, 3, 4], "format": "d", "title": "Out-of-sample Sharpe", "titlePadding": 15}
            }
          }
        },
        {
          "data": {"name": "zero"},
          "mark": {"type": "rule", "color": "#6b7280", "strokeWidth": 2},
          "encoding": {"x": {"field": "v", "type": "quantitative"}}
        },
        {
          "data": {"name": "zero"},
          "mark": {"type": "rule", "color": "#6b7280", "strokeWidth": 2},
          "encoding": {"y": {"field": "v", "type": "quantitative"}}
        },
        {
          "data": {"name": "arrow"},
          "mark": {"type": "rule", "color": "#d1495b", "strokeWidth": 3.5, "strokeCap": "round"},
          "encoding": {
            "x": {"field": "x", "type": "quantitative"},
            "y": {"field": "y", "type": "quantitative"},
            "x2": {"field": "x2"},
            "y2": {"field": "y2"}
          }
        },
        {
          "data": {"name": "pick"},
          "mark": {"type": "circle", "size": 800, "color": "#d1495b", "opacity": 1, "stroke": "white", "strokeWidth": 2},
          "encoding": {
            "x": {"field": "x", "type": "quantitative"},
            "y": {"field": "y", "type": "quantitative"}
          }
        },
        {
          "data": {"name": "note"},
          "mark": {"type": "text", "color": "#d1495b", "fontSize": 33, "align": "center", "baseline": "middle", "lineHeight": 38},
          "encoding": {
            "x": {"field": "x", "type": "quantitative"},
            "y": {"field": "y", "type": "quantitative"},
            "text": {"field": "label"}
          }
        }
      ]
    }
  ]
}
